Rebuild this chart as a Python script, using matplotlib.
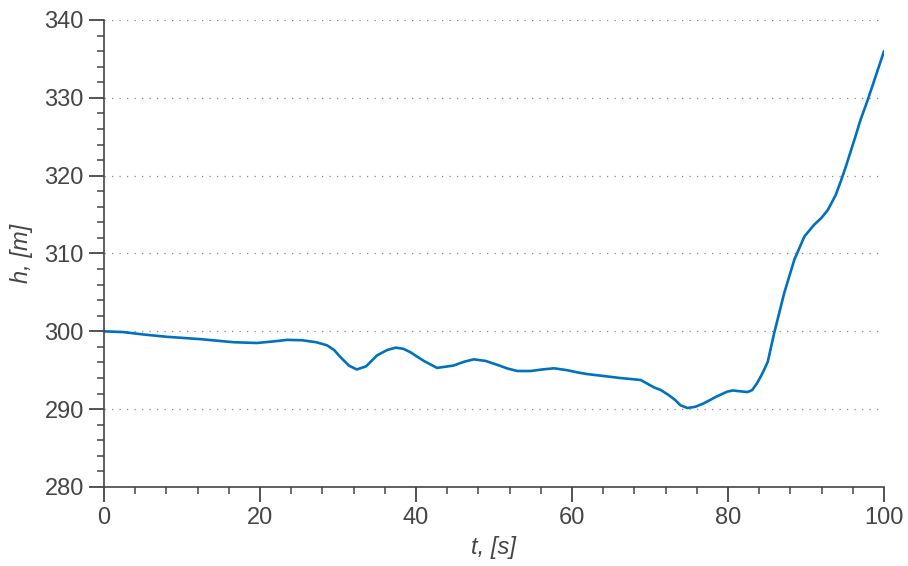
import matplotlib
matplotlib.use("Agg")
import matplotlib.pyplot as plt
from matplotlib.ticker import MultipleLocator

t = [0, 2.5, 5.0, 8.0, 12.3, 16.6, 19.6, 21.7, 23.5, 25.4, 27.2, 28.6, 29.5,
     30.3, 31.4, 32.4, 33.6, 35.0, 36.3, 37.4, 38.4, 39.3, 41.0, 42.7, 44.8,
     46.2, 47.4, 48.9, 50.4, 51.8, 53.0, 54.7, 56.2, 57.7, 59.4, 60.8, 62.0,
     63.7, 66.2, 68.8, 70.5, 71.4, 72.4, 73.2, 73.9, 74.8, 75.8, 76.9, 78.5,
     79.9, 80.6, 81.5, 82.5, 83.1, 83.7, 84.2, 84.6, 85.1, 85.9, 87.2, 88.5,
     89.8, 91.05, 92.0, 92.8, 93.8, 94.5, 95.1, 96.2, 97.0, 97.9, 98.97, 100]
h = [300.0, 299.9, 299.6, 299.3, 299.0, 298.6, 298.5, 298.7, 298.9, 298.85,
     298.6, 298.2, 297.6, 296.7, 295.6, 295.1, 295.5, 296.9, 297.6, 297.9,
     297.75, 297.3, 296.2, 295.3, 295.6, 296.1, 296.4, 296.2, 295.7, 295.2,
     294.9, 294.9, 295.1, 295.25, 295.0, 294.7, 294.5, 294.3, 294.0, 293.75,
     292.8, 292.45, 291.8, 291.2, 290.5, 290.15, 290.3, 290.75, 291.6, 292.25,
     292.4, 292.3, 292.2, 292.45, 293.3, 294.2, 295.0, 296.1, 299.7, 304.9,
     309.2, 312.2, 313.7, 314.6, 315.6, 317.5, 319.4, 321.15, 324.6, 327.2,
     329.7, 332.9, 336.0]

xticks = [0, 20, 40, 60, 80, 100]
yticks = [280, 290, 300, 310, 320, 330, 340]

plt.rcParams['font.family'] = ['Liberation Sans', 'DejaVu Sans']
fg = '#454545'

fig = plt.figure(figsize=(9.08, 5.66), dpi=100)
ax = fig.add_axes([0.1145, 0.1396, 0.8591, 0.8251])

ax.plot(t, h, color='#0072BD', lw=1.9, solid_joinstyle='round',
        solid_capstyle='round')

ax.set_xlim(0, 100)
ax.set_ylim(280, 340)
ax.set_xticks(xticks)
ax.set_yticks(yticks)
ax.xaxis.set_minor_locator(MultipleLocator(4))
ax.yaxis.set_minor_locator(MultipleLocator(2))

for s in ['top', 'right']:
    ax.spines[s].set_visible(False)
for s in ['left', 'bottom']:
    ax.spines[s].set_color(fg)
    ax.spines[s].set_linewidth(1.2)

ax.tick_params(which='major', direction='out', length=10.5, width=1.3,
               color=fg, labelcolor=fg, labelsize=17, pad=4)
ax.tick_params(which='minor', direction='out', length=5, width=1.1, color=fg)

ax.yaxis.grid(True, which='major', color='#8a8a8a', linewidth=0.9,
              linestyle=(0, (1, 5)))
ax.set_axisbelow(True)

ax.set_xlabel('t, [s]', fontsize=17, style='italic', color=fg, labelpad=5)
ax.set_ylabel('h, [m]', fontsize=17, style='italic', color=fg, labelpad=8)

fig.savefig('out.png', dpi=100)
